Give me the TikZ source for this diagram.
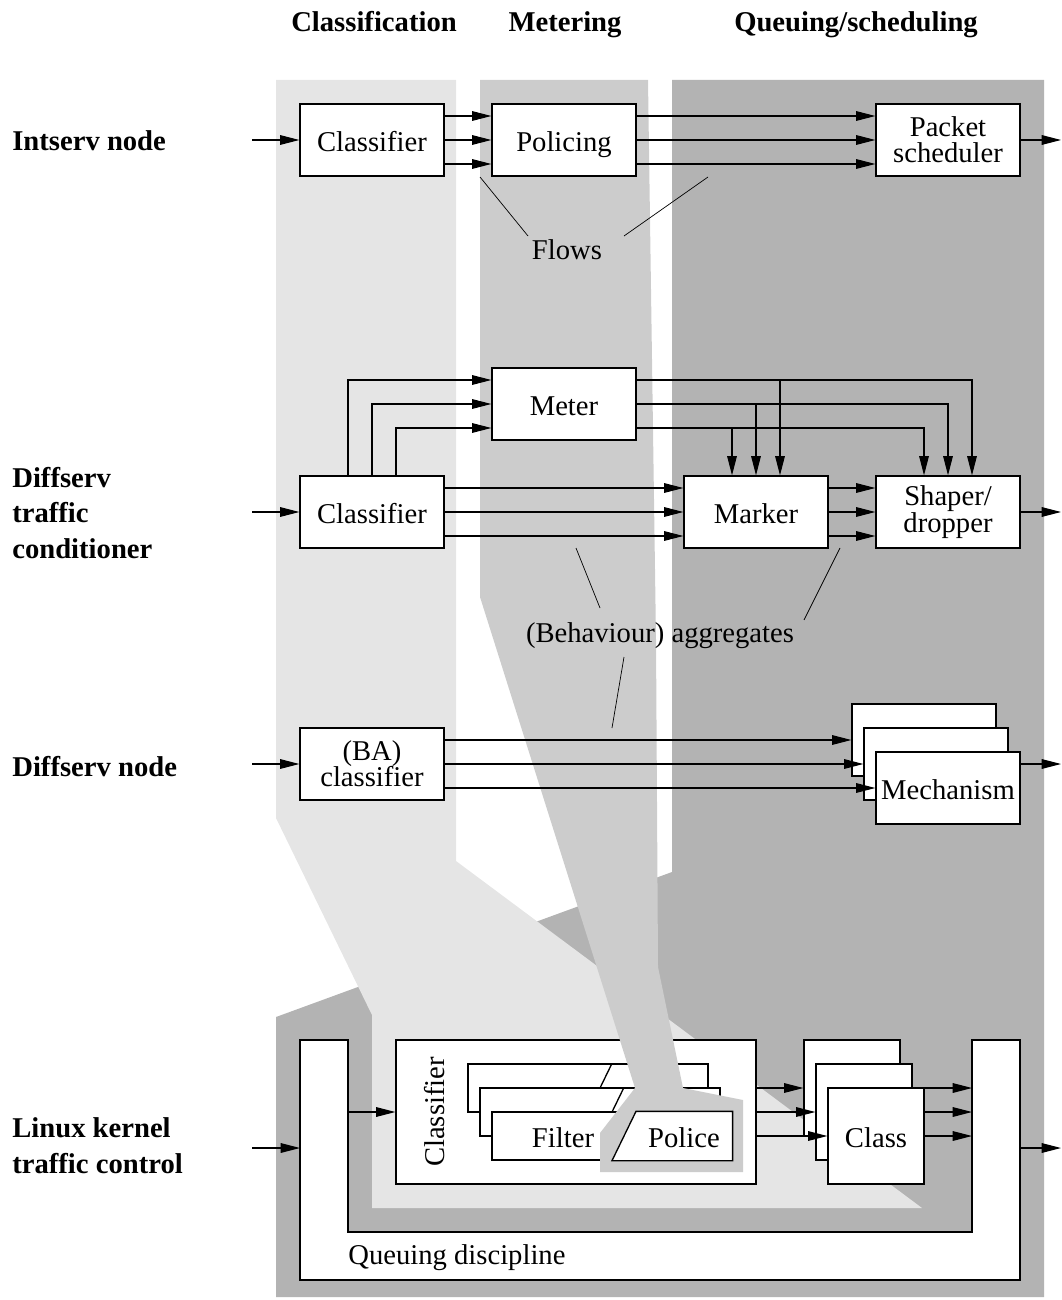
\documentclass[tikz,border=0pt]{standalone}
\usepackage{fontspec}
\setmainfont{Liberation Serif}
\usetikzlibrary{arrows.meta,calc,positioning}
\definecolor{bandlight}{HTML}{E5E5E5}
\definecolor{bandmid}{HTML}{CCCCCC}
\definecolor{banddark}{HTML}{B3B3B3}
\newcommand{\boxfont}{\fontsize{16.3}{15}\selectfont\lineskiplimit=-20pt}
\newcommand{\labfont}{\bfseries\fontsize{16.3}{20.4}\selectfont}
\tikzset{
  block/.style={rectangle, draw=black, line width=0.75pt, fill=white, minimum width=2.88cm, minimum height=1.44cm, inner sep=2pt, align=center, font=\boxfont},
  sblock/.style={block, text height=13pt, text depth=0pt},
  classbox/.style={sblock, minimum width=1.92cm, minimum height=1.92cm},
  filterbox/.style={block, minimum width=4.8cm, minimum height=0.96cm},
  flow/.style={line width=0.6pt, -{Triangle[length=11pt,width=5.5pt]}},
  leader/.style={line width=0.4pt},
  txt/.style={inner sep=0pt, font=\boxfont},
  rowlabel/.style={anchor=west, inner sep=0pt, align=left, font=\labfont},
  header/.style={anchor=base, inner sep=0pt, font=\labfont},
}
\begin{document}
\begin{tikzpicture}[x=0.02cm, y=-0.02cm]
  \useasboundingbox (0,0) rectangle (1061,1300);
  % grey bands behind the rows
  \fill[banddark] (672,80) -- (1044,80) -- (1044,1297) -- (276,1297) -- (276,1017) -- (672,872) -- cycle;
  \fill[bandlight] (276,80) -- (456,80) -- (456,861) -- (922,1208) -- (372,1208) -- (372,1015) -- (276,818) -- cycle;

  % Linux kernel traffic control
  \draw[line width=0.75pt, fill=white] (300,1040) -- (300,1280) -- (1020,1280) -- (1020,1040) -- (972,1040) -- (972,1232) -- (348,1232) -- (348,1040) -- cycle;
  \node[txt, anchor=west] (qdLabel) at (348,1258) {Queuing discipline};
  \coordinate (qdIn) at (300,1148);
  \coordinate (qdOut) at (1020,1148);
  \coordinate (qdArmL) at (348,1112);
  \coordinate (armR1) at (972,1088);
  \coordinate (armR2) at (972,1112);
  \coordinate (armR3) at (972,1136);
  \node[block, minimum width=7.2cm, minimum height=2.88cm] (lkCls) at (576,1112) {};
  \node[txt, rotate=90] (lkClsLabel) at (435,1112) {Classifier};
  \node[filterbox] (filtA) at (588,1088) {};
  \draw[line width=0.75pt] (filtA.south) -- ($(filtA.north)+(24,0)$);
  \node[filterbox] (filtB) at (600,1112) {};
  \draw[line width=0.75pt] (filtB.south) -- ($(filtB.north)+(24,0)$);
  \node[filterbox] (filtC) at (612,1136) {};
  \node[txt] (filtText) at (563,1138) {Filter};
  \node[classbox] (clsBack) at (852,1088) {};
  \node[classbox] (clsMid) at (864,1112) {};
  \node[classbox] (clsFront) at (876,1136) {Class};

  % metering band on top, wrapping the policer
  \fill[bandmid] (480,80) -- (648,80) -- (656,640) -- (658,967) -- (683,1088) -- (743,1100) -- (743,1172) -- (600,1172) -- (600,1133) -- (635,1088) -- (480,597) -- cycle;
  \draw[line width=0.75pt, fill=white] (filtC.south) -- ($(filtC.north)+(24,0)$) -- (filtC.north east) -- (filtC.south east) -- cycle;
  \node[txt] (policeText) at (684,1138) {Police};

  \coordinate (lkIn) at (252,1148);
  \coordinate (lkOut) at (1061,1148);
  \draw[flow] (lkIn) -- (qdIn);
  \draw[flow] (qdArmL) -- (lkCls.west);
  \draw[flow] (lkCls.east |- clsBack.west) -- (clsBack.west);
  \draw[flow] (lkCls.east |- clsMid.west) -- (clsMid.west);
  \draw[flow] (lkCls.east |- clsFront.west) -- (clsFront.west);
  \draw[flow] (clsFront.east |- armR1) -- (armR1);
  \draw[flow] (clsFront.east |- armR2) -- (armR2);
  \draw[flow] (clsFront.east |- armR3) -- (armR3);
  \draw[flow] (qdOut) -- (lkOut);

  % Intserv node
  \node[sblock] (isCls) at (372,140) {Classifier};
  \node[sblock] (isPol) at (564,140) {Policing};
  \node[block] (isSch) at (948,140) {Packet\\scheduler};
  \coordinate (isIn) at (252,140);
  \coordinate (isOut) at (1061,140);
  \draw[flow] (isIn) -- (isCls);
  \foreach \t in {0.48,0,-0.48} {
    \draw[flow] ([yshift=\t cm]isCls.east) -- ([yshift=\t cm]isPol.west);
    \draw[flow] ([yshift=\t cm]isPol.east) -- ([yshift=\t cm]isSch.west);
  }
  \draw[flow] (isSch) -- (isOut);
  \node[txt] (flows) at (567,250) {Flows};
  \coordinate (flowA) at (480,177);
  \coordinate (flowB) at (708,177);
  \coordinate (flowAt) at (528,236);
  \coordinate (flowBt) at (624,236);
  \draw[leader] (flowA) -- (flowAt);
  \draw[leader] (flowB) -- (flowBt);

  % Diffserv traffic conditioner
  \node[sblock] (dsMeter) at (564,404) {Meter};
  \node[sblock] (dsCls) at (372,512) {Classifier};
  \node[sblock] (dsMark) at (756,512) {Marker};
  \node[block] (dsShape) at (948,512) {Shaper/\\dropper};
  \coordinate (dsIn) at (252,512);
  \coordinate (dsOut) at (1061,512);
  \draw[flow] (dsIn) -- (dsCls);
  \foreach \t in {0.48,0,-0.48} {
    \draw[flow] ([xshift=-\t cm]dsCls.north) |- ([yshift=\t cm]dsMeter.west);
    \draw[flow] ([yshift=\t cm]dsMeter.east) -| ([xshift=\t cm]dsMark.north);
    \draw[flow] ([yshift=\t cm]dsMeter.east) -| ([xshift=\t cm]dsShape.north);
    \draw[flow] ([yshift=\t cm]dsCls.east) -- ([yshift=\t cm]dsMark.west);
    \draw[flow] ([yshift=\t cm]dsMark.east) -- ([yshift=\t cm]dsShape.west);
  }
  \draw[flow] (dsShape) -- (dsOut);
  \node[txt] (aggr) at (660,636) {(Behaviour) aggregates};
  \coordinate (aggA) at (576,548);
  \coordinate (aggAt) at (600,608);
  \coordinate (aggB) at (840,548);
  \coordinate (aggBt) at (804,620);
  \coordinate (aggC) at (612,728);
  \coordinate (aggCt) at (624,657);
  \draw[leader] (aggA) -- (aggAt);
  \draw[leader] (aggB) -- (aggBt);
  \draw[leader] (aggC) -- (aggCt);

  % Diffserv node
  \node[block] (dnCls) at (372,764) {(BA)\\classifier};
  \node[sblock] (mechA) at (924,740) {};
  \node[sblock] (mechB) at (936,764) {};
  \node[sblock] (mechC) at (948,788) {Mechanism};
  \coordinate (dnIn) at (252,764);
  \coordinate (dnOut) at (1061,764);
  \draw[flow] (dnIn) -- (dnCls);
  \draw[flow] (dnCls.east |- mechA.west) -- (mechA.west);
  \draw[flow] (dnCls.east |- mechB.west) -- (mechB.west);
  \draw[flow] (dnCls.east |- mechC.west) -- (mechC.west);
  \draw[flow] (mechC.east |- dnOut) -- (dnOut);

  % column headers and row labels
  \node[header] (hdCls) at (374,32) {Classification};
  \node[header] (hdMet) at (565,32) {Metering};
  \node[header] (hdQue) at (856,32) {Queuing/scheduling};
  \node[rowlabel] (lbIntserv) at (12,141) {Intserv node};
  \node[rowlabel] (lbCond) at (12,513) {Diffserv\\traffic\\conditioner};
  \node[rowlabel] (lbNode) at (12,767) {Diffserv node};
  \node[rowlabel] (lbLinux) at (12,1146) {Linux kernel\\traffic control};
\end{tikzpicture}
\end{document}
